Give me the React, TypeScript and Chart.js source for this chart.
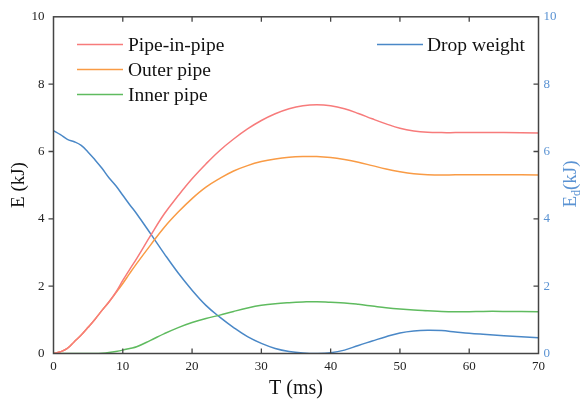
import React, { useEffect, useRef } from "react";
import { Chart, registerables } from "chart.js";

Chart.register(...registerables);

const times = [0, 1, 2, 3, 4, 5, 6, 7, 8, 9, 10, 11, 12, 14, 16, 18, 20, 22, 24, 26, 28, 30, 32, 34, 36, 38, 40, 42, 44, 46, 48, 50, 52, 54, 56, 58, 60, 62, 65, 70];
const pipeInPipe = [0, 0.05, 0.15, 0.35, 0.55, 0.78, 1.02, 1.28, 1.53, 1.82, 2.17, 2.5, 2.82, 3.5, 4.15, 4.69, 5.19, 5.63, 6.03, 6.37, 6.67, 6.92, 7.12, 7.27, 7.36, 7.39, 7.36, 7.27, 7.13, 6.97, 6.82, 6.69, 6.61, 6.57, 6.56, 6.56, 6.56, 6.56, 6.56, 6.55];
const outerPipe = [0, 0.05, 0.15, 0.35, 0.55, 0.78, 1.02, 1.28, 1.53, 1.8, 2.08, 2.38, 2.67, 3.22, 3.75, 4.2, 4.6, 4.94, 5.2, 5.42, 5.58, 5.7, 5.78, 5.83, 5.85, 5.85, 5.82, 5.76, 5.68, 5.58, 5.48, 5.4, 5.34, 5.31, 5.3, 5.31, 5.31, 5.31, 5.31, 5.3];
const innerPipe = [0, 0, 0, 0, 0, 0, 0, 0.01, 0.03, 0.06, 0.1, 0.15, 0.2, 0.39, 0.59, 0.77, 0.92, 1.04, 1.14, 1.25, 1.35, 1.43, 1.48, 1.51, 1.53, 1.54, 1.52, 1.5, 1.46, 1.41, 1.36, 1.32, 1.29, 1.27, 1.25, 1.24, 1.24, 1.25, 1.25, 1.24];
const dropWeight = [6.62, 6.5, 6.36, 6.29, 6.18, 5.98, 5.75, 5.5, 5.22, 4.98, 4.7, 4.42, 4.15, 3.56, 2.96, 2.39, 1.88, 1.43, 1.08, 0.77, 0.5, 0.3, 0.15, 0.06, 0.015, 0, 0.02, 0.1, 0.24, 0.37, 0.5, 0.61, 0.67, 0.69, 0.68, 0.64, 0.6, 0.57, 0.53, 0.47];

const xTicks = [0, 10, 20, 30, 40, 50, 60, 70];
const yTicks = [0, 2, 4, 6, 8, 10];

const seriesNames = ["Pipe-in-pipe", "Outer pipe", "Inner pipe", "Drop weight"];
const colors = ["#f77b7b", "#f99b45", "#5fbb5f", "#4a88c7"];
const rightColor = "#5b93d3";
const FONT = "'Liberation Serif', 'DejaVu Serif', serif";

const decorPlugin = {
  id: "decor",
  afterDraw(chart: any) {
    const { ctx, chartArea: a, scales } = chart;
    const x = scales.x;
    const y = scales.y;
    ctx.save();
    ctx.strokeStyle = "#444";
    ctx.lineWidth = 1.5;
    ctx.strokeRect(a.left, a.top, a.right - a.left, a.bottom - a.top);
    ctx.lineWidth = 1.3;
    ctx.beginPath();
    xTicks.forEach((t) => {
      if (t === 0 || t === 70) return;
      const px = x.getPixelForValue(t);
      ctx.moveTo(px, a.bottom);
      ctx.lineTo(px, a.bottom - 5);
      ctx.moveTo(px, a.top);
      ctx.lineTo(px, a.top + 5);
    });
    yTicks.forEach((v) => {
      if (v === 0 || v === 10) return;
      const py = y.getPixelForValue(v);
      ctx.moveTo(a.left, py);
      ctx.lineTo(a.left - 5, py);
      ctx.moveTo(a.right, py);
      ctx.lineTo(a.right - 5, py);
    });
    ctx.stroke();

    // legend
    ctx.font = `19.5px ${FONT}`;
    ctx.textBaseline = "middle";
    ctx.textAlign = "left";
    [0, 1, 2].forEach((i, k) => {
      const yy = 44.5 + k * 25;
      ctx.strokeStyle = colors[i];
      ctx.lineWidth = 1.6;
      ctx.beginPath();
      ctx.moveTo(77, yy);
      ctx.lineTo(123, yy);
      ctx.stroke();
      ctx.fillStyle = "#111";
      ctx.fillText(seriesNames[i], 128, yy + 1);
    });
    ctx.strokeStyle = colors[3];
    ctx.beginPath();
    ctx.moveTo(377, 44.5);
    ctx.lineTo(423, 44.5);
    ctx.stroke();
    ctx.fillStyle = "#111";
    ctx.fillText(seriesNames[3], 427, 45.5);

    // axis titles
    ctx.font = `20px ${FONT}`;
    ctx.textAlign = "center";
    ctx.fillStyle = "#111";
    ctx.fillText("T (ms)", 296, 389);

    ctx.save();
    ctx.translate(19.5, 185);
    ctx.rotate(-Math.PI / 2);
    ctx.font = `19px ${FONT}`;
    ctx.fillText("E (kJ)", 0, 0);
    ctx.restore();

    ctx.save();
    ctx.translate(571.5, 184);
    ctx.rotate(-Math.PI / 2);
    ctx.fillStyle = rightColor;
    ctx.font = `19px ${FONT}`;
    const wE = ctx.measureText("E").width;
    ctx.font = `12px ${FONT}`;
    const wd = ctx.measureText("d").width;
    ctx.font = `19px ${FONT}`;
    const wK = ctx.measureText("(kJ)").width;
    let cx = -(wE + wd + wK) / 2;
    ctx.textAlign = "left";
    ctx.fillText("E", cx, 0);
    cx += wE;
    ctx.font = `12px ${FONT}`;
    ctx.fillText("d", cx, 5);
    cx += wd;
    ctx.font = `19px ${FONT}`;
    ctx.fillText("(kJ)", cx, 0);
    ctx.restore();

    ctx.restore();
  },
};

export default function App() {
  const ref = useRef<HTMLCanvasElement>(null);
  useEffect(() => {
    document.body.style.margin = "0";
    const canvas = ref.current!;
    const mk = (vals: number[], i: number, axis: string) => ({
      label: seriesNames[i],
      data: times.map((t, k) => ({ x: t, y: vals[k] })),
      borderColor: colors[i],
      backgroundColor: colors[i],
      borderWidth: 1.5,
      pointRadius: 0,
      tension: 0.4,
      yAxisID: axis,
    });
    const chart = new Chart(canvas, {
      type: "line",
      data: {
        datasets: [
          mk(pipeInPipe, 0, "y"),
          mk(outerPipe, 1, "y"),
          mk(innerPipe, 2, "y"),
          mk(dropWeight, 3, "y2"),
        ],
      },
      options: {
        animation: false,
        responsive: false,
        layout: { padding: { top: 16.5, left: 0, right: 0, bottom: 0 } },
        plugins: { legend: { display: false }, tooltip: { enabled: false } },
        scales: {
          x: {
            type: "linear",
            min: 0,
            max: 70,
            grid: { display: false, drawTicks: false },
            border: { display: false },
            afterBuildTicks: (s: any) => {
              s.ticks = xTicks.map((v) => ({ value: v }));
            },
            ticks: { color: "#222", font: { family: FONT, size: 13 }, padding: 5, maxRotation: 0 },
            afterFit: (s: any) => {
              s.height = 403 - 353.5;
            },
          },
          y: {
            type: "linear",
            position: "left",
            min: 0,
            max: 10,
            grid: { display: false, drawTicks: false },
            border: { display: false },
            afterBuildTicks: (s: any) => {
              s.ticks = yTicks.map((v) => ({ value: v }));
            },
            ticks: { color: "#222", font: { family: FONT, size: 13 }, padding: 9 },
            afterFit: (s: any) => {
              s.width = 53.5;
            },
          },
          y2: {
            type: "linear",
            position: "right",
            min: 0,
            max: 10,
            grid: { display: false, drawTicks: false },
            border: { display: false },
            afterBuildTicks: (s: any) => {
              s.ticks = yTicks.map((v) => ({ value: v }));
            },
            ticks: { color: rightColor, font: { family: FONT, size: 13 }, padding: 5 },
            afterFit: (s: any) => {
              s.width = 580 - 538.5;
            },
          },
        },
      },
      plugins: [decorPlugin],
    });
    return () => chart.destroy();
  }, []);
  return <canvas ref={ref} width={580} height={403} style={{ display: "block" }} />;
}
